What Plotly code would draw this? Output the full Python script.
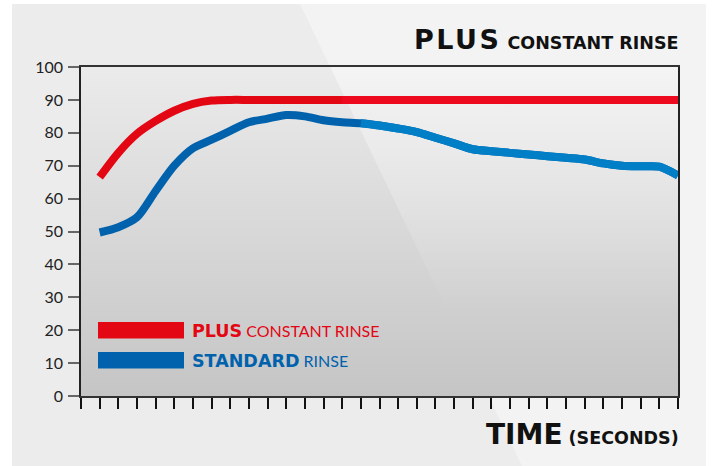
import plotly.graph_objects as go

# ---- data ----
seconds = list(range(1, 33))
plus_rinse = [66.5, 73.9, 79.7, 83.6, 86.7, 88.8, 89.8, 90.0, 90.0, 90.0,
              90.0, 90.0, 90.0, 90.0, 90.0, 90.0, 90.0, 90.0, 90.0, 90.0,
              90.0, 90.0, 90.0, 90.0, 90.0, 90.0, 90.0, 90.0, 90.0, 90.0,
              90.0, 90.0]
standard_rinse = [49.7, 51.3, 54.3, 62.3, 70.0, 75.3, 77.9, 80.6, 83.2, 84.3,
                  85.4, 85.0, 83.8, 83.2, 82.9, 82.2, 81.3, 80.2, 78.5, 76.8,
                  75.0, 74.4, 73.9, 73.4, 72.9, 72.4, 71.9, 70.7, 70.0, 69.8,
                  69.7, 67.0]
y_ticks = [0, 10, 20, 30, 40, 50, 60, 70, 80, 90, 100]
x_ticks = list(range(0, 33))

RED = "#e30613"
RED_LIGHT = "#ee0a1e"
BLUE = "#0062ad"
BLUE_LIGHT = "#007fc6"

W, H = 713, 466
L, R, T, B = 81, 35, 67, 70
pw, ph = W - L - R, H - T - B


def px_x(p):
    return (p - L) / pw


def px_y(p):
    return (H - B - p) / ph


fig = go.Figure()

# plot-area vertical gradient
fig.add_trace(go.Scatter(
    x=[0, 32, 32, 0, 0], y=[0, 0, 100, 100, 0], mode="lines",
    line=dict(width=0), fill="toself",
    fillgradient=dict(type="vertical",
                      colorscale=[[0, "#c5c5c5"], [1, "#ebebeb"]]),
    hoverinfo="skip", showlegend=False))

# diagonal highlight
fig.add_trace(go.Scatter(
    x=[13.36, 32, 32, 21.82, 13.36], y=[100, 100, 0, 0, 100], mode="lines",
    line=dict(width=0), fill="toself",
    fillgradient=dict(type="vertical",
                      colorscale=[[0, "rgba(255,255,255,0)"],
                                  [0.25, "rgba(255,255,255,0)"],
                                  [1, "rgba(255,255,255,0.45)"]]),
    hoverinfo="skip", showlegend=False))


def add_series(name, ys, c1, c2, split):
    fig.add_trace(go.Scatter(
        x=seconds, y=ys, mode="lines", name=name,
        line=dict(color=c1, width=8, shape="spline", smoothing=0.8),
        showlegend=False))
    xs2 = [x for x in seconds if x >= split]
    ys2 = [y for x, y in zip(seconds, ys) if x >= split]
    fig.add_trace(go.Scatter(
        x=xs2, y=ys2, mode="lines", name=name,
        line=dict(color=c2, width=8, shape="spline", smoothing=0.8),
        showlegend=False, hoverinfo="skip"))


add_series("PLUS constant rinse", plus_rinse, RED, RED_LIGHT, 14)
add_series("STANDARD rinse", standard_rinse, BLUE, BLUE_LIGHT, 15)

shapes = [
    # outer panel
    dict(type="rect", xref="paper", yref="paper", layer="below",
         x0=px_x(12), x1=px_x(706), y0=px_y(466), y1=px_y(4),
         fillcolor="#ececec", line=dict(width=0)),
    # lighter right part of panel
    dict(type="path", xref="paper", yref="paper", layer="below",
         path=f"M {px_x(300)} {px_y(4)} L {px_x(706)} {px_y(4)} "
              f"L {px_x(706)} {px_y(466)} L {px_x(522)} {px_y(466)} Z",
         fillcolor="#f3f3f3", line=dict(width=0)),
    # legend bars
    dict(type="rect", xref="paper", yref="paper",
         x0=px_x(98), x1=px_x(184), y0=px_y(338.5), y1=px_y(322),
         fillcolor=RED, line=dict(width=0)),
    dict(type="rect", xref="paper", yref="paper",
         x0=px_x(98), x1=px_x(184), y0=px_y(368.5), y1=px_y(352),
         fillcolor=BLUE, line=dict(width=0)),
]

HF = "DejaVu Sans"
heavy = f"font-family:{HF};font-weight:bold"
annotations = [
    dict(xref="paper", yref="paper", x=px_x(190), y=px_y(330.5),
         xanchor="left", yanchor="middle", showarrow=False,
         text=f"<span style='{heavy};font-size:17.5px'>PLUS</span>"
              f"<span style='font-size:16px'> CONSTANT RINSE</span>",
         font=dict(family="Lato", color=RED, size=16)),
    dict(xref="paper", yref="paper", x=px_x(190), y=px_y(360.5),
         xanchor="left", yanchor="middle", showarrow=False,
         text=f"<span style='{heavy};font-size:17.5px'>STANDARD</span>"
              f"<span style='font-size:16px'> RINSE</span>",
         font=dict(family="Lato", color=BLUE, size=16)),
    dict(xref="paper", yref="paper", x=px_x(680), y=px_y(39),
         xanchor="right", yanchor="middle", showarrow=False,
         text=f"<span style='{heavy};font-size:27px;letter-spacing:2.5px'>PLUS</span>"
              f"<span style='{heavy};font-size:17.5px'> CONSTANT RINSE</span>",
         font=dict(family=HF, color="#111111", size=20)),
    dict(xref="paper", yref="paper", x=px_x(681), y=px_y(434),
         xanchor="right", yanchor="middle", showarrow=False,
         text=f"<span style='{heavy};font-size:28px'>TIME</span>"
              f"<span style='{heavy};font-size:17.5px'> (SECONDS)</span>",
         font=dict(family=HF, color="#111111", size=20)),
]

fig.update_layout(
    width=W, height=H,
    margin=dict(l=L, r=R, t=T, b=B, pad=0),
    paper_bgcolor="#ffffff", plot_bgcolor="rgba(0,0,0,0)",
    shapes=shapes, annotations=annotations,
    font=dict(family="Lato", color="#222222"),
    hovermode="closest",
)

fig.update_xaxes(
    range=[0, 32], tickvals=x_ticks, showticklabels=False,
    ticks="outside", ticklen=11, tickwidth=1.5, tickcolor="#111111",
    showgrid=False, zeroline=False,
    showline=True, linecolor="#333333", linewidth=1.5, mirror=True,
)
fig.update_yaxes(
    range=[0, 100], tickvals=y_ticks, ticktext=[str(v) for v in y_ticks],
    ticks="outside", ticklen=11, tickwidth=2, tickcolor="#666666",
    tickfont=dict(family="Lato", size=16, color="#222222"),
    ticklabelstandoff=2,
    showgrid=False, zeroline=False,
    showline=True, linecolor="#222222", linewidth=1.5, mirror=True,
)

fig.write_html(
    "out.html",
    config={"displayModeBar": False},
    post_script="document.body.style.margin='0';document.body.style.overflow='hidden';",
)
